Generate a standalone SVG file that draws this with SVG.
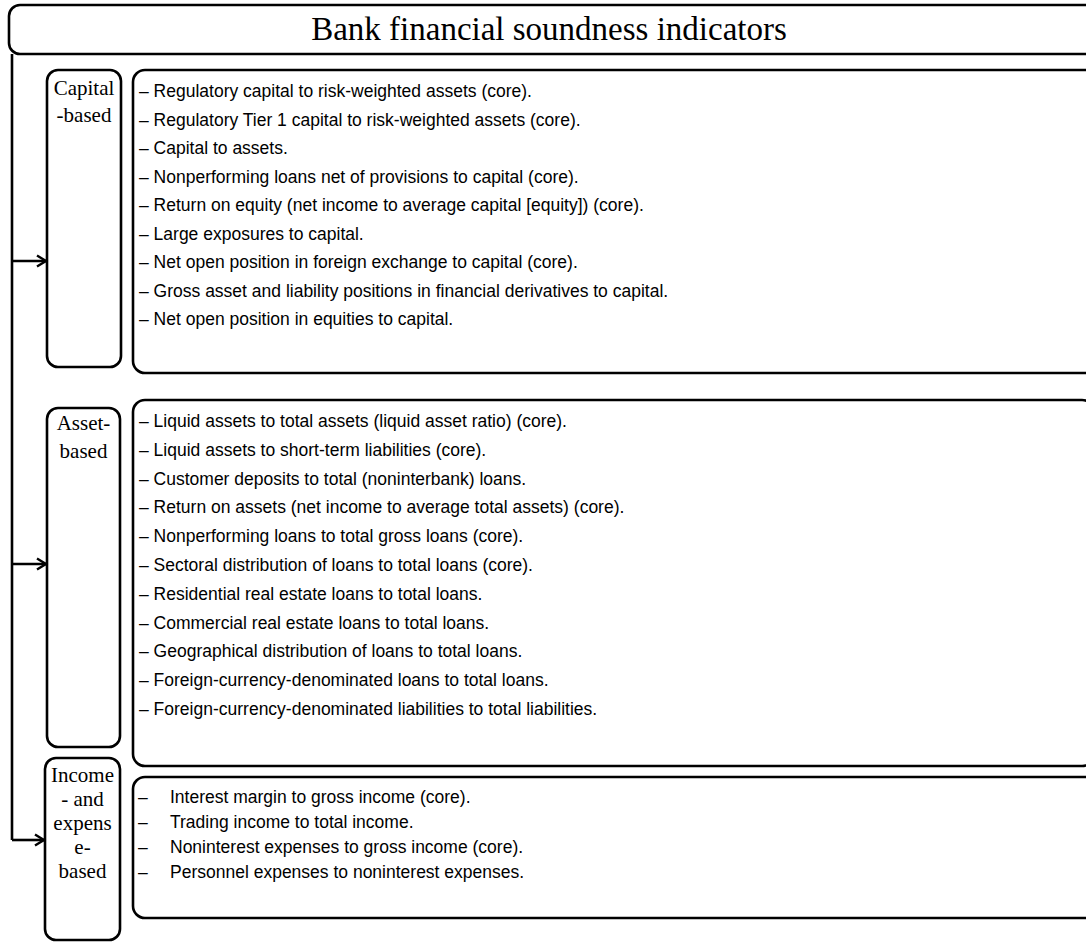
<svg xmlns="http://www.w3.org/2000/svg" width="1086" height="943" viewBox="0 0 1086 943">
<style>
.box{fill:none;stroke:#000;stroke-width:2.6}
.ttl{font-family:"Liberation Serif","Times New Roman",serif;font-size:33px;fill:#000}
.lbl{font-family:"Liberation Serif","Times New Roman",serif;font-size:21px;fill:#000;text-anchor:middle}
.itm{font-family:"Liberation Sans",Arial,sans-serif;font-size:17.5px;fill:#000}
.con{fill:none;stroke:#000;stroke-width:2.6}
</style>
<defs>
<marker id="ah" markerWidth="14" markerHeight="14" refX="11" refY="7" orient="auto" markerUnits="userSpaceOnUse">
<path d="M2,1.5 L11,7 L2,12.5" fill="none" stroke="#000" stroke-width="2.4"/>
</marker>
</defs>
<rect width="1086" height="943" fill="#fff"/>
<g id="title">
<rect class="box" x="9" y="5" width="1100" height="49" rx="11"/>
<text class="ttl" x="549" y="40" text-anchor="middle">Bank financial soundness indicators</text>
</g>
<g id="connectors">
<path class="con" d="M12,54 V840"/>
<path class="con" d="M12,261 H46" marker-end="url(#ah)"/>
<path class="con" d="M12,564 H46" marker-end="url(#ah)"/>
<path class="con" d="M12,840 H44" marker-end="url(#ah)"/>
</g>
<g id="capital-label">
<rect class="box" x="47" y="70" width="74" height="297" rx="11"/>
<text class="lbl" x="84" y="95">Capital</text>
<text class="lbl" x="84" y="122">-based</text>
</g>
<g id="capital-items">
<rect class="box" x="133" y="70" width="980" height="303" rx="12"/>
<text class="itm" x="139" y="97">– Regulatory capital to risk-weighted assets (core).</text>
<text class="itm" x="139" y="125.5">– Regulatory Tier 1 capital to risk-weighted assets (core).</text>
<text class="itm" x="139" y="154">– Capital to assets.</text>
<text class="itm" x="139" y="182.5">– Nonperforming loans net of provisions to capital (core).</text>
<text class="itm" x="139" y="211">– Return on equity (net income to average capital [equity]) (core).</text>
<text class="itm" x="139" y="239.5">– Large exposures to capital.</text>
<text class="itm" x="139" y="268">– Net open position in foreign exchange to capital (core).</text>
<text class="itm" x="139" y="296.5">– Gross asset and liability positions in financial derivatives to capital.</text>
<text class="itm" x="139" y="325">– Net open position in equities to capital.</text>
</g>
<g id="asset-label">
<rect class="box" x="47" y="408" width="73" height="339" rx="11"/>
<text class="lbl" x="83.5" y="430">Asset-</text>
<text class="lbl" x="83.5" y="458">based</text>
</g>
<g id="asset-items">
<rect class="box" x="133" y="400" width="961" height="366" rx="12"/>
<text class="itm" x="139" y="427">– Liquid assets to total assets (liquid asset ratio) (core).</text>
<text class="itm" x="139" y="455.8">– Liquid assets to short-term liabilities (core).</text>
<text class="itm" x="139" y="484.6">– Customer deposits to total (noninterbank) loans.</text>
<text class="itm" x="139" y="513.4">– Return on assets (net income to average total assets) (core).</text>
<text class="itm" x="139" y="542.2">– Nonperforming loans to total gross loans (core).</text>
<text class="itm" x="139" y="571">– Sectoral distribution of loans to total loans (core).</text>
<text class="itm" x="139" y="599.8">– Residential real estate loans to total loans.</text>
<text class="itm" x="139" y="628.6">– Commercial real estate loans to total loans.</text>
<text class="itm" x="139" y="657.4">– Geographical distribution of loans to total loans.</text>
<text class="itm" x="139" y="686.2">– Foreign-currency-denominated loans to total loans.</text>
<text class="itm" x="139" y="715">– Foreign-currency-denominated liabilities to total liabilities.</text>
</g>
<g id="income-label">
<rect class="box" x="45" y="758" width="75" height="182" rx="11"/>
<text class="lbl" x="82.5" y="782">Income</text>
<text class="lbl" x="82.5" y="806">- and</text>
<text class="lbl" x="82.5" y="830">expens</text>
<text class="lbl" x="82.5" y="854">e-</text>
<text class="lbl" x="82.5" y="878">based</text>
</g>
<g id="income-items">
<rect class="box" x="133" y="777" width="980" height="141" rx="12"/>
<text class="itm" x="138" y="803">–</text>
<text class="itm" x="170" y="803">Interest margin to gross income (core).</text>
<text class="itm" x="138" y="828">–</text>
<text class="itm" x="170" y="828">Trading income to total income.</text>
<text class="itm" x="138" y="853">–</text>
<text class="itm" x="170" y="853">Noninterest expenses to gross income (core).</text>
<text class="itm" x="138" y="878">–</text>
<text class="itm" x="170" y="878">Personnel expenses to noninterest expenses.</text>
</g>
</svg>
